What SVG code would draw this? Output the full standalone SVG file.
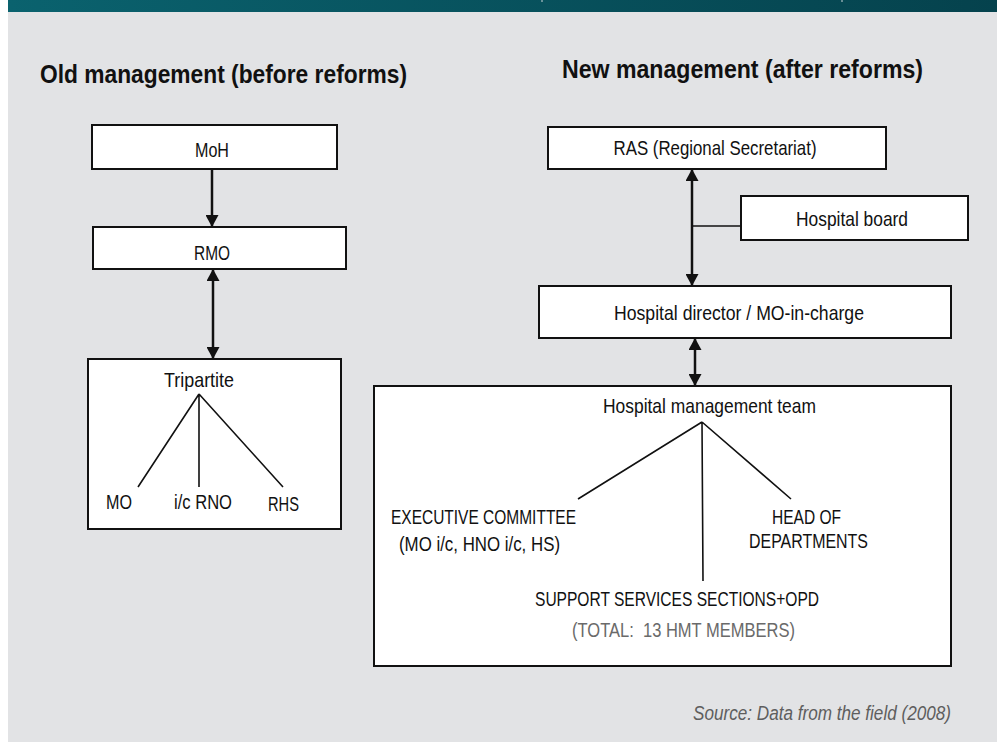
<svg xmlns="http://www.w3.org/2000/svg" width="997" height="742" viewBox="0 0 997 742">
  <defs>
    <linearGradient id="bannerGrad" x1="0" y1="0" x2="1" y2="0">
      <stop offset="0" stop-color="#0a626e"/>
      <stop offset="1" stop-color="#05424d"/>
    </linearGradient>
    <marker id="head" viewBox="0 0 12 13" markerWidth="12" markerHeight="13" refX="12" refY="6.5" orient="auto-start-reverse" markerUnits="userSpaceOnUse">
      <path d="M0,0 L12,6.5 L0,13 z" fill="#111"/>
    </marker>
    <style>
      .box { fill: #ffffff; stroke: #111; stroke-width: 2; }
      .lbl { font-family: "Liberation Sans Narrow", "Liberation Sans", Arial, sans-serif; font-size: 21px; fill: #111; text-anchor: middle; }
      .grey { fill: #6a6a6a; }
      .title { font-family: "Liberation Sans Narrow", "Liberation Sans", Arial, sans-serif; font-size: 26px; font-weight: bold; fill: #111; }
      .src { font-family: "Liberation Sans Narrow", "Liberation Sans", Arial, sans-serif; font-size: 20px; font-style: italic; fill: #5e5e5e; text-anchor: end; }
      .arrow { stroke: #111; stroke-width: 2.5; fill: none; }
      .branch { stroke: #111; stroke-width: 1.6; fill: none; }
    </style>
  </defs>

  <!-- page background and header band -->
  <rect x="0" y="0" width="997" height="742" fill="#ffffff"/>
  <rect x="8" y="0" width="989" height="742" fill="#e2e3e5"/>
  <rect x="8" y="0" width="989" height="12" fill="url(#bannerGrad)"/>
  <rect x="541.5" y="0" width="1" height="2" fill="#c9d6d8"/>
  <rect x="841.5" y="0" width="1" height="2" fill="#c9d6d8"/>

  <!-- section titles -->
  <text class="title" x="40" y="83" textLength="367" lengthAdjust="spacingAndGlyphs">Old management (before reforms)</text>
  <text class="title" x="562" y="78" textLength="361" lengthAdjust="spacingAndGlyphs">New management (after reforms)</text>

  <!-- connectors -->
  <g id="connectors">
    <line class="arrow" x1="212" y1="169" x2="212" y2="227" marker-end="url(#head)"/>
    <line class="arrow" x1="213" y1="269" x2="213" y2="359" marker-start="url(#head)" marker-end="url(#head)"/>
    <line class="arrow" x1="692" y1="169" x2="692" y2="286" marker-start="url(#head)" marker-end="url(#head)"/>
    <line class="branch" x1="692" y1="226" x2="741" y2="226"/>
    <line class="arrow" x1="695" y1="338" x2="695" y2="386" marker-start="url(#head)" marker-end="url(#head)"/>
  </g>

  <!-- old structure -->
  <g id="moh">
    <rect class="box" x="92" y="125" width="245" height="44"/>
    <text class="lbl" x="212" y="157" textLength="34" lengthAdjust="spacingAndGlyphs">MoH</text>
  </g>
  <g id="rmo">
    <rect class="box" x="93" y="227" width="253" height="42"/>
    <text class="lbl" x="212" y="260" textLength="36" lengthAdjust="spacingAndGlyphs">RMO</text>
  </g>
  <g id="tripartite">
    <rect class="box" x="88" y="359" width="253" height="170"/>
    <text class="lbl" x="199" y="387" textLength="70" lengthAdjust="spacingAndGlyphs">Tripartite</text>
    <path class="branch" d="M199,394 L138,487 M199,394 L199,487 M199,394 L283,487"/>
    <text class="lbl" x="119" y="509" textLength="26" lengthAdjust="spacingAndGlyphs">MO</text>
    <text class="lbl" x="203" y="509" textLength="58" lengthAdjust="spacingAndGlyphs">i/c RNO</text>
    <text class="lbl" x="283.5" y="511" textLength="31" lengthAdjust="spacingAndGlyphs">RHS</text>
  </g>

  <!-- new structure -->
  <g id="ras">
    <rect class="box" x="548" y="127" width="338" height="42"/>
    <text class="lbl" x="715" y="155" textLength="203" lengthAdjust="spacingAndGlyphs">RAS (Regional Secretariat)</text>
  </g>
  <g id="board">
    <rect class="box" x="741" y="196" width="227" height="44"/>
    <text class="lbl" x="852" y="226" textLength="112" lengthAdjust="spacingAndGlyphs">Hospital board</text>
  </g>
  <g id="director">
    <rect class="box" x="539" y="286" width="412" height="52"/>
    <text class="lbl" x="739" y="320" textLength="250" lengthAdjust="spacingAndGlyphs">Hospital director / MO-in-charge</text>
  </g>
  <g id="hmt">
    <rect class="box" x="374" y="386" width="577" height="280"/>
    <text class="lbl" x="709.5" y="413" textLength="213" lengthAdjust="spacingAndGlyphs">Hospital management team</text>
    <path class="branch" d="M702,422 L578,499 M702,422 L703,581 M702,422 L791,499"/>
    <text class="lbl" x="483.5" y="524" textLength="185" lengthAdjust="spacingAndGlyphs">EXECUTIVE COMMITTEE</text>
    <text class="lbl" x="479.5" y="551" textLength="161" lengthAdjust="spacingAndGlyphs">(MO i/c, HNO i/c, HS)</text>
    <text class="lbl" x="806.5" y="524" textLength="69" lengthAdjust="spacingAndGlyphs">HEAD OF</text>
    <text class="lbl" x="808.5" y="548" textLength="119" lengthAdjust="spacingAndGlyphs">DEPARTMENTS</text>
    <text class="lbl" x="677" y="606" textLength="284" lengthAdjust="spacingAndGlyphs">SUPPORT SERVICES SECTIONS+OPD</text>
    <text class="lbl grey" x="683.5" y="637" textLength="223" lengthAdjust="spacingAndGlyphs">(TOTAL:&#160; 13 HMT MEMBERS)</text>
  </g>

  <!-- source note -->
  <text class="src" x="951" y="720" textLength="258" lengthAdjust="spacingAndGlyphs">Source: Data from the field (2008)</text>
</svg>
